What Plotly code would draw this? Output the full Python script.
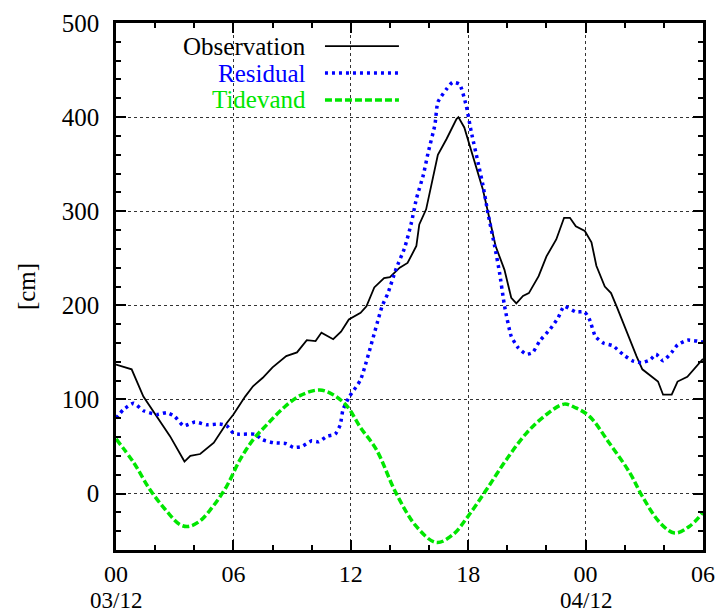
import plotly.graph_objects as go

# Hours since 00 03/12
obs_hours = [0, 0.8, 1.4, 2.1, 2.76, 3.5, 3.8, 4.3, 5.0, 5.66, 6.0, 6.6, 7.0, 7.5, 8.0, 8.7, 9.25,
             9.75, 10.2, 10.5, 11.1, 11.5, 11.9, 12.5, 12.8, 13.2, 13.7, 14.0, 14.5, 14.9, 15.35,
             15.5, 15.85, 16.45, 16.9, 17.4, 17.5, 17.8, 18.25, 18.75, 19.1, 19.4, 19.85, 20.2,
             20.46, 20.8, 21.1, 21.6, 22.0, 22.5, 22.9, 23.2, 23.5, 23.96, 24.3, 24.55, 24.98,
             25.3, 25.6, 25.9, 26.6, 26.9, 27.3, 27.7, 27.96, 28.4, 28.7, 29.2, 30.0]
obs_values = [137, 132, 103, 81, 61, 34, 40, 42, 54, 75, 84, 103, 114, 123, 134, 146, 150,
              163, 162, 171, 164, 172, 185, 192, 199, 219, 229, 230, 240, 245, 263,
              286, 302, 360, 377, 398, 400, 389, 359, 323, 291, 263, 238, 208,
              202, 210, 213, 231, 252, 270, 293, 293, 284, 279, 267, 242, 220,
              213, 198, 182, 146, 132, 125, 119, 105, 105, 119, 124, 143]

res_hours = [0, 0.37, 0.9, 1.4, 2.1, 2.6, 3.0, 3.45, 4.04, 4.64, 5.3, 5.66, 6.0, 6.3, 7.1, 7.5,
             8.05, 8.7, 9.07, 9.5, 10.0, 10.35, 10.8, 11.2, 11.46, 11.6, 11.9, 12.5, 13.6, 13.9,
             14.3, 14.75, 15.1, 15.35, 15.7, 15.95, 16.3, 16.45, 16.9, 17.2, 17.56, 17.9, 18.16,
             18.5, 18.76, 19.0, 19.35, 19.6, 19.86, 20.2, 20.55, 20.97, 21.3, 21.65, 22.2, 22.6,
             22.9, 23.5, 23.95, 24.2, 24.5, 24.9, 25.4, 25.9, 26.4, 26.85, 27.3, 27.6, 27.96,
             28.4, 28.7, 29.2, 30.0]
res_values = [80, 89, 96, 88, 84, 86, 82, 72, 76, 73, 74, 72, 64, 63, 63, 57,
              54, 53, 49, 50, 56, 55, 61, 63, 73, 89, 102, 121, 199, 213,
              238, 261, 288, 313, 338, 362, 392, 416, 430, 437, 435, 412, 384,
              352, 327, 299, 263, 235, 199, 167, 155, 148, 150, 162, 175, 187,
              199, 193, 193, 185, 167, 160, 157, 148, 141, 139, 142, 148, 141,
              150, 158, 163, 161]

tide_hours = [0, 0.9, 1.74, 2.6, 3.27, 3.7, 4.3, 4.98, 5.66, 6.34, 7.0, 7.7, 8.56, 9.4, 10.4,
              11.1, 11.8, 12.5, 13.3, 14.3, 15.35, 16.37, 17.2, 18.0, 18.93, 19.95, 20.97, 22.0,
              22.9, 23.5, 24.2, 25.2, 26.26, 26.9, 27.8, 28.55, 29.3, 30.0]
tide_values = [58, 33, 4, -19, -33, -35, -29, -13, 8, 36, 57, 73, 91, 104, 110,
               105, 93, 70, 47, 1, -35, -52, -44, -24, 4, 36, 64, 84,
               95, 91, 82, 54, 22, -3, -31, -42, -35, -20]

x_tickvals = [0, 6, 12, 18, 24, 30]
x_ticktext = ["00", "06", "12", "18", "00", "06"]
date_positions = [0, 24]
date_labels = ["03/12", "04/12"]
y_tickvals = [0, 100, 200, 300, 400, 500]

series_names = ["Observation", "Residual", "Tidevand"]
series_colors = ["#000000", "#0000ff", "#00e600"]

FONT = "Liberation Serif"
FS = 25

fig = go.Figure()
fig.add_trace(go.Scatter(x=obs_hours, y=obs_values, mode="lines", name=series_names[0],
                         line=dict(color=series_colors[0], width=1.8)))
fig.add_trace(go.Scatter(x=res_hours, y=res_values, mode="lines", name=series_names[1],
                         line=dict(color=series_colors[1], width=3.5, dash="3px,4px", shape="spline", smoothing=0.5)))
fig.add_trace(go.Scatter(x=tide_hours, y=tide_values, mode="lines", name=series_names[2],
                         line=dict(color=series_colors[2], width=3.5, dash="7px,3px", shape="spline")))

# Custom legend (text right-aligned, sample on the right)
legend_y = [0.956, 0.905, 0.854]
dashes = ["solid", "3px,4px", "7px,3px"]
widths = [1.8, 3.5, 3.5]
for name, color, yy, d, w in zip(series_names, series_colors, legend_y, dashes, widths):
    fig.add_annotation(xref="paper", yref="paper", x=0.327, y=yy, text=name, showarrow=False,
                       xanchor="right", yanchor="middle",
                       font=dict(family=FONT, size=FS, color=color))
    fig.add_shape(type="line", xref="paper", yref="paper", x0=0.356, x1=0.482, y0=yy, y1=yy,
                  line=dict(color=color, width=w, dash=d))

# Date labels under the midnight ticks
for xp, lab in zip(date_positions, date_labels):
    fig.add_annotation(xref="x", yref="paper", x=xp, y=-0.1205, text=lab, showarrow=False,
                       xanchor="center", yanchor="bottom", borderpad=0,
                       font=dict(family=FONT, size=23, color="black"))

axis_common = dict(showline=True, linecolor="black", linewidth=2.5, mirror="allticks",
                   ticks="inside", ticklen=10, tickcolor="black", tickwidth=1.5,
                   showgrid=True, gridcolor="#333333", gridwidth=1, griddash="dot",
                   zeroline=False, automargin=False)

fig.update_xaxes(range=[0, 30], tickvals=x_tickvals, ticktext=x_ticktext, ticklabelstandoff=0,
                 tickfont=dict(family=FONT, size=24, color="black"),
                 minor=dict(dtick=2, tick0=0, ticks="inside", ticklen=5, tickcolor="black", showgrid=False),
                 **axis_common)
fig.update_yaxes(range=[-60, 500], tickvals=y_tickvals, ticklabelstandoff=9,
                 tickfont=dict(family=FONT, size=FS, color="black"),
                 minor=dict(dtick=20, tick0=0, ticks="inside", ticklen=5, tickcolor="black", showgrid=False),
                 title=dict(text="[cm]", font=dict(family=FONT, size=FS, color="black"), standoff=20),
                 **axis_common)

fig.update_layout(width=716, height=614, showlegend=False,
                  margin=dict(l=116, r=13, t=23, b=64),
                  paper_bgcolor="white", plot_bgcolor="white",
                  font=dict(family=FONT, size=FS, color="black"))

fig.write_html("out.html", config={"displayModeBar": False},
               post_script="document.body.style.margin='0px';document.body.style.overflow='hidden';")
